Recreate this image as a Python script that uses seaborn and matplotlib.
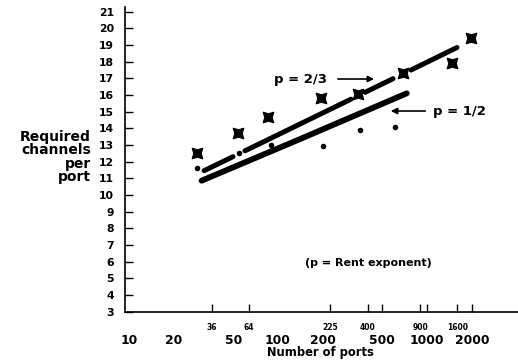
import numpy as np
import pandas as pd
import matplotlib
matplotlib.use("Agg")
import matplotlib.pyplot as plt
import seaborn as sns
from matplotlib.ticker import FixedLocator, FixedFormatter
from matplotlib.path import Path
from matplotlib.transforms import Affine2D

# ---- data ----
star_ports = [28.5, 54.3, 86.1, 193.5, 345.8, 685, 1479, 1974]
star_channels = [12.54, 13.70, 14.66, 15.80, 16.04, 17.32, 17.90, 19.40]

dot_ports = [28.5, 54.5, 89.8, 199.5, 355, 610]
dot_channels = [11.60, 12.54, 13.00, 12.94, 13.90, 14.10]

# p = 2/3 curve (drawn broken into pieces in the original)
p23_ports = [31.9, 49.9, 60.0, 309, 384, 592, 782, 1589]
p23_channels = [11.46, 12.30, 12.65, 15.75, 16.16, 16.98, 17.50, 18.85]
p23_piece = [1, 1, 2, 2, 3, 3, 4, 4]

# p = 1/2 curve
p12_ports = [30.7, 140, 731]
p12_channels = [10.86, 13.35, 16.10]

y_ticks = list(range(3, 22))
x_major = [10, 20, 50, 100, 200, 500, 1000, 2000]
x_major_labels = ["10", "20", "50", "100", "200", "500", "1000", "2000"]
x_minor = [36, 64, 225, 400, 900, 1600]
x_minor_labels = ["36", "64", "225", "400", "900", "1600"]

# ---- style ----
sns.set_style("ticks")
plt.rcParams["font.family"] = ["DejaVu Sans"]
plt.rcParams["font.weight"] = "bold"
for k in ["text.color", "axes.labelcolor", "xtick.color", "ytick.color", "axes.edgecolor"]:
    plt.rcParams[k] = "black"

star_path = Path.unit_regular_star(4, innerCircle=0.5)
star_path = star_path.transformed(Affine2D().rotate_deg(45))

fig = plt.figure(figsize=(5.18, 3.60), dpi=100)
ax = fig.add_axes([125 / 518, (360 - 311.7) / 360, (518 - 125) / 518, (311.7 - 7) / 360])

up = pd.DataFrame({"ports": p23_ports, "channels": p23_channels, "piece": p23_piece})
lo = pd.DataFrame({"ports": p12_ports, "channels": p12_channels, "piece": [1] * len(p12_ports)})

sns.lineplot(data=up, x="ports", y="channels", units="piece", estimator=None,
             color="black", lw=3.6, solid_capstyle="round", ax=ax, legend=False)
sns.lineplot(data=lo, x="ports", y="channels", units="piece", estimator=None,
             color="black", lw=4.2, solid_capstyle="round", ax=ax, legend=False)

sns.scatterplot(x=star_ports, y=star_channels, marker=star_path, s=58,
                color="black", edgecolor="black", linewidth=0.8, ax=ax, zorder=5)
sns.scatterplot(x=dot_ports, y=dot_channels, marker="o", s=16,
                color="black", edgecolor="black", linewidth=0, ax=ax, zorder=5)

ax.set_xscale("log")
ax.set_xlim(10 ** (1 - 4 / 149), 10 ** (1 + 389 / 149))
ax.set_ylim(3, 21.28)

# y axis
ax.set_yticks(y_ticks)
ax.set_yticklabels([str(v) for v in y_ticks], fontsize=7.8, fontweight="bold")
ax.tick_params(axis="y", direction="in", length=5.5, width=1.0, pad=8, color="black")

# x axis: big labels and small labelled ticks
ax.xaxis.set_major_locator(FixedLocator(x_major))
ax.xaxis.set_major_formatter(FixedFormatter(x_major_labels))
ax.xaxis.set_minor_locator(FixedLocator(x_minor))
ax.xaxis.set_minor_formatter(FixedFormatter(x_minor_labels))
ax.tick_params(axis="x", which="major", direction="in", length=6, width=1.0,
               pad=16, labelsize=8.8, color="black")
ax.tick_params(axis="x", which="minor", direction="in", length=6, width=1.0,
               pad=8, labelsize=5.5, color="black")
for t in ax.xaxis.get_major_ticks()[:5]:
    t.tick1line.set_visible(False)
for lab in ax.get_xticklabels(which="both"):
    lab.set_fontweight("bold")

for s in ["top", "right"]:
    ax.spines[s].set_visible(False)
for s in ["left", "bottom"]:
    ax.spines[s].set_color("black")
    ax.spines[s].set_linewidth(1.2)

ax.set_xlabel("Number of ports", fontsize=8.3, fontweight="bold", labelpad=0)
ax.xaxis.set_label_coords((320 - 125) / 393, -(346 - 311.7) / 304.7)
ax.set_ylabel("Required\nchannels\nper\nport", rotation=0, ha="right", va="center",
              multialignment="right", fontsize=10, fontweight="bold", linespacing=0.95)
ax.yaxis.set_label_coords((91 - 125) / 393, (311.7 - 157) / 304.7)

# annotations
ax.annotate("", xy=(461, 16.96), xytext=(241.7, 16.96),
            arrowprops=dict(arrowstyle="-|>", color="black", lw=1.2, mutation_scale=9))
ax.text(140.6, 16.92, "p = 2/3", ha="center", va="center", fontsize=9.5, fontweight="bold")
ax.annotate("", xy=(547, 15.04), xytext=(1016, 15.04),
            arrowprops=dict(arrowstyle="-|>", color="black", lw=1.2, mutation_scale=9))
ax.text(1096, 15.0, "p = 1/2", ha="left", va="center", fontsize=9.5, fontweight="bold")
ax.text(402, 5.92, "(p = Rent exponent)", ha="center", va="center", fontsize=8, fontweight="bold")

fig.savefig("out.png", dpi=100)
